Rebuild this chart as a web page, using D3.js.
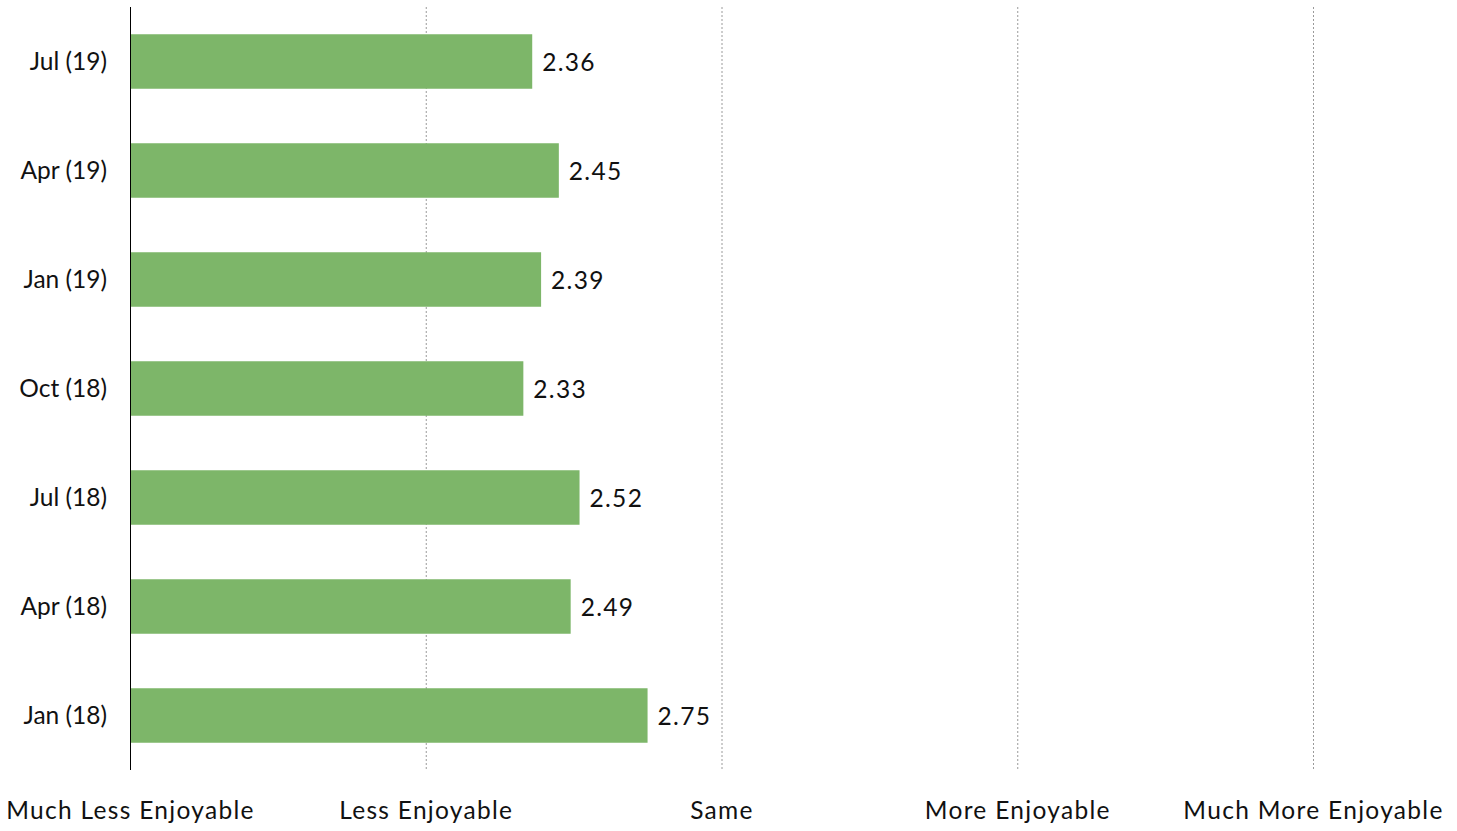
<!DOCTYPE html>
<html>
<head>
<meta charset="utf-8">
<script src="https://cdn.jsdelivr.net/npm/d3@7"></script>
<style>
  html, body { margin: 0; padding: 0; background: #fff; }
  svg { display: block; font-family: "Lato", "Open Sans", sans-serif; }
</style>
</head>
<body>
<svg id="chart" width="1457" height="831"></svg>
<script>
// Survey periods, most recent first (top to bottom)
const periods = ["Jul (19)", "Apr (19)", "Jan (19)", "Oct (18)", "Jul (18)", "Apr (18)", "Jan (18)"];
// Mean enjoyment score per period (1 = Much Less Enjoyable ... 5 = Much More Enjoyable)
const scores = [2.36, 2.45, 2.39, 2.33, 2.52, 2.49, 2.75];
// Scale points and their labels
const scaleValues = [1, 2, 3, 4, 5];
const scaleLabels = ["Much Less Enjoyable", "Less Enjoyable", "Same", "More Enjoyable", "Much More Enjoyable"];

const svg = d3.select("#chart");
const margin = { top: 7, right: 144, bottom: 61, left: 130 };
const width = 1457, height = 831;
const FONT = "Lato, 'Open Sans', sans-serif";

const x = d3.scaleLinear()
  .domain([1, 5])
  .range([margin.left, width - margin.right]);

const y = d3.scaleBand()
  .domain(periods)
  .range([margin.top, height - margin.bottom])
  .paddingInner(0.5)
  .paddingOuter(0.25);

// Dotted vertical gridlines at each scale point except the baseline
svg.append("g")
  .selectAll("line")
  .data(scaleValues.slice(1))
  .join("line")
  .attr("x1", d => x(d) + 0.5)
  .attr("x2", d => x(d) + 0.5)
  .attr("y1", margin.top)
  .attr("y2", height - margin.bottom)
  .attr("stroke", "#9a9a9a")
  .attr("stroke-width", 1)
  .attr("stroke-dasharray", "2,2");

// Bars
svg.append("g")
  .selectAll("rect")
  .data(periods)
  .join("rect")
  .attr("x", x(1))
  .attr("y", (d) => y(d))
  .attr("width", (d, i) => x(scores[i]) - x(1))
  .attr("height", y.bandwidth())
  .attr("fill", "#7db669");

// Value labels
svg.append("g")
  .selectAll("text")
  .data(periods)
  .join("text")
  .attr("x", (d, i) => x(scores[i]) + 10)
  .attr("y", d => y(d) + y.bandwidth() / 2)
  .attr("dy", "0.38em")
  .attr("font-size", 24.5)
  .attr("font-family", FONT)
  .attr("letter-spacing", 1.3)
  .attr("fill", "#111")
  .text((d, i) => scores[i].toFixed(2));

// Category axis
const yAxis = svg.append("g")
  .attr("transform", `translate(${margin.left},0)`)
  .call(d3.axisLeft(y).tickSize(0).tickPadding(23));
yAxis.select(".domain")
  .attr("stroke", "#000")
  .attr("d", `M0.5,${margin.top}V${height - margin.bottom}`);
yAxis.selectAll("text")
  .attr("font-size", 24.5)
  .attr("font-family", FONT)
  .attr("dy", "0.36em")
  .attr("fill", "#111");

// Scale axis labels along the bottom
const xAxis = svg.append("g")
  .attr("transform", `translate(0,${height - margin.bottom})`)
  .call(d3.axisBottom(x).tickValues(scaleValues).tickSize(0).tickPadding(32)
    .tickFormat((d, i) => scaleLabels[i]));
xAxis.select(".domain").remove();
xAxis.selectAll("text")
  .attr("font-size", 24.5)
  .attr("font-family", FONT)
  .attr("letter-spacing", 1.3)
  .attr("fill", "#111");
</script>
</body>
</html>
